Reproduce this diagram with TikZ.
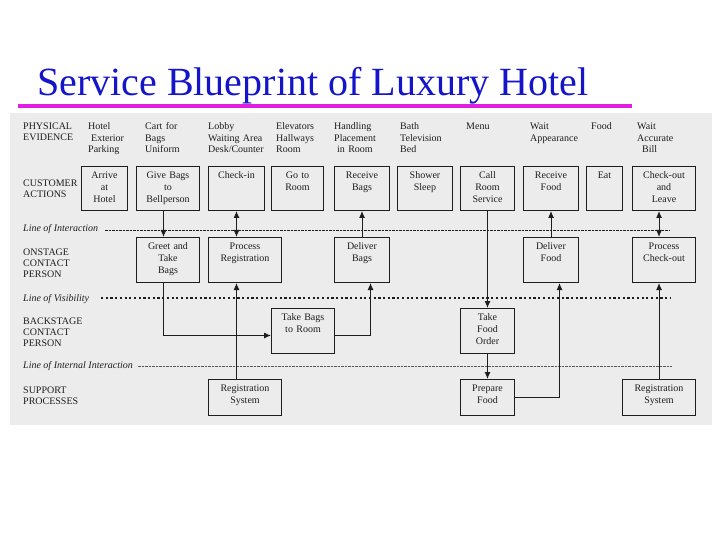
\documentclass[tikz,border=0pt]{standalone}
\usepackage{fontspec}
\setmainfont{Liberation Serif}
\usetikzlibrary{arrows.meta}
\definecolor{titleblue}{RGB}{20,20,200}
\definecolor{rulepink}{RGB}{225,30,225}
\definecolor{panel}{RGB}{236,236,236}
\definecolor{ink}{RGB}{30,30,30}

\begin{document}
\begin{tikzpicture}[x=1pt,y=-1pt,>={Latex[length=7pt,width=6pt]},
box/.style={draw=ink,line width=1pt,anchor=north west,align=center,inner sep=3pt,
  text=ink,text height=9pt,font=\fontsize{10}{11.8}\selectfont},
act/.style={box,text width=#1,text depth=29pt},
stage/.style={box,text width=#1,text depth=30pt},
supp/.style={box,text width=#1,text depth=21pt},
lane/.style={anchor=base west,align=left,text width=75pt,inner sep=0pt,text=ink,font=\fontsize{10}{11}\selectfont},
zone/.style={anchor=base west,inner sep=0pt,text=ink,font=\fontsize{10}{11}\selectfont\itshape},
evid/.style={anchor=base west,align=left,text width=60pt,inner sep=0pt,text=ink,font=\fontsize{10}{11.5}\selectfont},
link/.style={ink,line width=1pt}]
\useasboundingbox (0,0) rectangle (720,540);
\fill[panel] (10,113) rectangle (712,425);
\node[anchor=base west,inner sep=0pt,text=titleblue,font=\fontsize{40}{44}\selectfont] (title) at (37,96) {Service Blueprint of Luxury Hotel};
\draw[rulepink,line width=4pt] (18,106) -- (632,106);

\node[lane] (pe) at (23,130) {PHYSICAL\\EVIDENCE};
\node[lane] (ca) at (23,187) {CUSTOMER\\ACTIONS};
\node[zone] (loi) at (23,232) {Line of Interaction};
\node[lane] (on) at (23,255) {ONSTAGE\\CONTACT\\PERSON};
\node[zone] (lov) at (23,301) {Line of Visibility};
\node[lane] (bs) at (23,324) {BACKSTAGE\\CONTACT\\PERSON};
\node[zone] (lii) at (23,368) {Line of Internal Interaction};
\node[lane] (sp) at (23,393) {SUPPORT\\PROCESSES};

\draw[ink,line width=0.7pt,dash pattern=on 2.5pt off 1pt] (105,230) -- (670,230);
\draw[ink,line width=2.6pt,dash pattern=on 2.2pt off 2.5pt] (101,298) -- (670,298);
\draw[ink!75,line width=0.5pt,dash pattern=on 2.5pt off 1pt] (138,366) -- (672,366);

\node[evid] (e1) at (88,130) {Hotel\\\hspace*{3pt}Exterior\\Parking};
\node[evid] (e2) at (145,130) {Cart for\\Bags\\Uniform};
\node[evid] (e3) at (208,130) {Lobby\\Waiting Area\\Desk/Counter};
\node[evid] (e4) at (276,130) {Elevators\\Hallways\\Room};
\node[evid] (e5) at (334,130) {Handling\\Placement\\\hspace*{3pt}in Room};
\node[evid] (e6) at (400,130) {Bath\\Television\\Bed};
\node[evid] (e7) at (466,130) {Menu};
\node[evid] (e8) at (530,130) {Wait\\Appearance};
\node[evid] (e9) at (591,130) {Food};
\node[evid] (e10) at (637,130) {Wait\\Accurate\\\hspace*{5pt}Bill};

\node[act=40pt] (arr) at (81,166) {Arrive\\at\\Hotel};
\node[act=57pt] (gb) at (136,166) {Give Bags\\to\\Bellperson};
\node[act=50pt] (ci) at (208,166) {Check-in};
\node[act=46pt] (gr) at (271,166) {Go to\\Room};
\node[act=49pt] (rb) at (334,166) {Receive\\Bags};
\node[act=49pt] (ss) at (397,166) {Shower\\Sleep};
\node[act=48pt] (crs) at (460,166) {Call\\Room\\Service};
\node[act=49pt] (rf) at (523,166) {Receive\\Food};
\node[act=30pt] (eat) at (586,166) {Eat};
\node[act=57pt] (co) at (632,166) {Check-out\\and\\Leave};

\node[stage=57pt] (gt) at (136,237) {Greet and\\Take\\Bags};
\node[stage=67pt] (pr) at (208,237) {Process\\Registration};
\node[stage=49pt] (db) at (334,237) {Deliver\\Bags};
\node[stage=49pt] (df) at (523,237) {Deliver\\Food};
\node[stage=57pt] (pc) at (632,237) {Process\\Check-out};

\node[stage=57pt] (tb) at (271,308) {Take Bags\\to Room};
\node[stage=48pt] (tfo) at (460,308) {Take\\Food\\Order};

\node[supp=67pt] (rs) at (208,379) {Registration\\System};
\node[supp=48pt] (pf) at (460,379) {Prepare\\Food};
\node[supp=67pt] (rsb) at (622,379) {Registration\\System};

\draw[link,->] ([xshift=-4.5pt]gb.south) -- ([xshift=-4.5pt]gt.north);
\draw[link,<->] (ci.south) -- (ci.south |- pr.north);
\draw[link,->] (db) -- (rb);
\draw[link,->] ([xshift=-4.5pt]gt.south) |- ([yshift=-4.5pt]tb.west);
\draw[link,->] ([yshift=-4.5pt]tb.east) -| ([xshift=8.5pt]db.south);
\draw[link,->] (rs.north -| ci.south) -- (pr.south -| ci.south);
\draw[link,->] (crs) -- (tfo);
\draw[link,->] (tfo) -- (pf);
\draw[link,->] (pf) -| ([xshift=8.5pt]df.south);
\draw[link,->] (df) -- (rf);
\draw[link,<->] (co.south -| rsb) -- (pc.north -| rsb);
\draw[link,->] (rsb) -- (rsb |- pc.south);
\end{tikzpicture}
\end{document}
